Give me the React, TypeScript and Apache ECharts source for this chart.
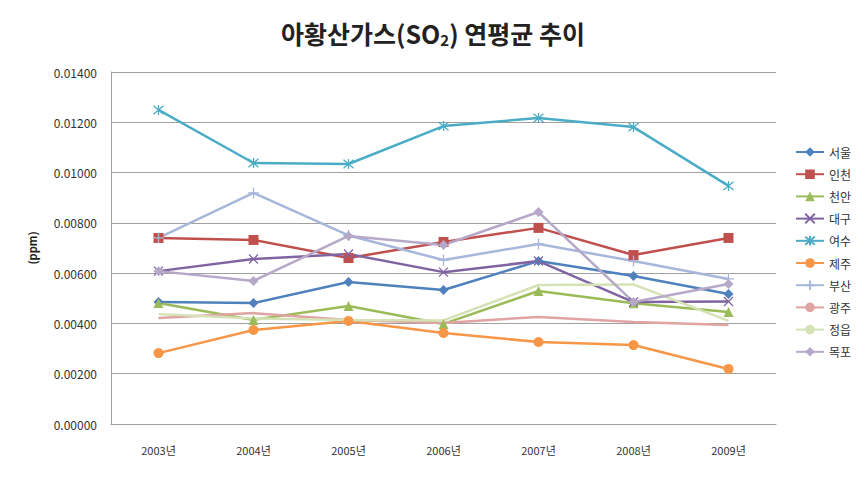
import React, { useEffect, useRef } from "react";
import * as echarts from "echarts";

const years = ["2003년", "2004년", "2005년", "2006년", "2007년", "2008년", "2009년"];
const seoul = [0.00485, 0.00481, 0.00565, 0.00533, 0.00648, 0.00589, 0.00517];
const incheon = [0.0074, 0.00732, 0.0066, 0.00724, 0.0078, 0.00672, 0.0074];
const cheonan = [0.00481, 0.00414, 0.00469, 0.00398, 0.00529, 0.0048, 0.00445];
const daegu = [0.00608, 0.00656, 0.00676, 0.00604, 0.00648, 0.00485, 0.00487];
const yeosu = [0.01249, 0.01038, 0.01034, 0.01185, 0.01217, 0.01181, 0.00947];
const jeju = [0.00282, 0.00374, 0.0041, 0.00362, 0.00326, 0.00314, 0.00219];
const busan = [0.0074, 0.00919, 0.0075, 0.00652, 0.00716, 0.00648, 0.00577];
const gwangju = [0.00422, 0.00441, 0.00414, 0.00402, 0.00426, 0.00406, 0.00394];
const jeongeup = [0.00437, 0.0042, 0.00414, 0.00412, 0.00553, 0.00555, 0.0041];
const mokpo = [0.00608, 0.00569, 0.00748, 0.00712, 0.00843, 0.00485, 0.00557];

const X_PATH = "path://M0,0L10,10M10,0L0,10";
const STAR_PATH = "path://M0,0L10,10M10,0L0,10M5,-1L5,11";
const PLUS_PATH = "path://M5,0L5,10M2,5L8,5";

export default function App() {
  const ref = useRef<HTMLDivElement>(null);
  useEffect(() => {
    const chart = echarts.init(ref.current!, null, { renderer: "svg" });
    const font = "'Noto Sans CJK KR', 'Noto Sans', sans-serif";
    const mk = (name: string, data: number[], color: string, symbol: string, size: number, stroke = false) => ({
      name,
      type: "line",
      data,
      symbol,
      symbolSize: size,
      showSymbol: symbol !== "none",
      lineStyle: { color, width: 2.5 },
      itemStyle: stroke
        ? { color, borderColor: color, borderWidth: 1.3 }
        : { color, borderColor: color, borderWidth: 0 },
      emphasis: { disabled: true },
    });
    chart.setOption({
      animation: false,
      textStyle: { fontFamily: font },
      title: {
        text: "아황산가스(SO{sub|2}) 연평균 추이",
        left: "center",
        top: 13,
        textStyle: {
          fontFamily: font,
          fontSize: 25,
          fontWeight: "bold",
          color: "#222",
          rich: {
            sub: { fontSize: 15, fontWeight: "bold", color: "#222", fontFamily: font, verticalAlign: "bottom", padding: [14, 0, 0, 0] },
          },
        },
      },
      grid: { left: 111, right: 90, top: 72, bottom: 53 },
      legend: {
        orient: "vertical",
        left: 790,
        top: 141,
        itemWidth: 28,
        itemHeight: 12,
        itemGap: 10.2,
        textStyle: { fontSize: 12, color: "#333", fontFamily: font },
        data: ["서울", "인천", "천안", "대구", "여수", "제주", "부산", "광주", "정읍", "목포"],
      },
      xAxis: {
        type: "category",
        data: years,
        boundaryGap: true,
        axisLine: { lineStyle: { color: "#a0a0a0" } },
        axisTick: { show: false },
        axisLabel: { color: "#333", fontSize: 11, margin: 20, fontFamily: font },
      },
      yAxis: {
        type: "value",
        min: 0,
        max: 0.014,
        interval: 0.002,
        name: "(ppm)",
        nameLocation: "middle",
        nameGap: 74,
        nameRotate: 90,
        nameTextStyle: { fontSize: 11, fontWeight: "bold", color: "#222", fontFamily: font },
        axisLine: { show: true, lineStyle: { color: "#a0a0a0" } },
        axisTick: { show: false },
        splitLine: { lineStyle: { color: "#a0a0a0" } },
        axisLabel: { color: "#333", fontSize: 12, margin: 14, fontFamily: font, formatter: (v: number) => v.toFixed(5) },
      },
      series: [
        mk("서울", seoul, "#4F81BD", "diamond", 10),
        mk("인천", incheon, "#C0504D", "rect", 10),
        mk("천안", cheonan, "#9BBB59", "triangle", 10),
        mk("대구", daegu, "#8064A2", X_PATH, 9, true),
        mk("여수", yeosu, "#4BACC6", STAR_PATH, 10, true),
        mk("제주", jeju, "#F79646", "circle", 10),
        mk("부산", busan, "#A7B7DA", PLUS_PATH, 11, true),
        mk("광주", gwangju, "#E0A4A3", "none", 0),
        mk("정읍", jeongeup, "#D4E2B6", "none", 0),
        mk("목포", mokpo, "#B5A8C9", "diamond", 10),
      ],
    });
    return () => chart.dispose();
  }, []);
  return <div ref={ref} style={{ position: "absolute", left: 0, top: 0, width: 866, height: 477 }} />;
}
